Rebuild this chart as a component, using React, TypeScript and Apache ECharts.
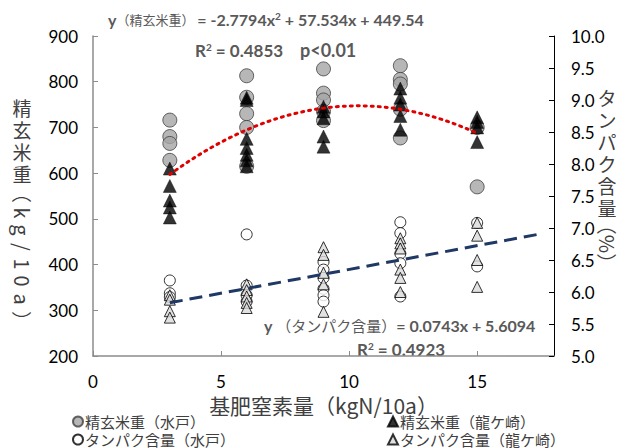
import React, { useEffect, useRef } from 'react';
import * as echarts from 'echarts';

// Nitrogen levels (kgN/10a)
const nitrogenLevels = [3, 6, 9, 12, 15];

// 精玄米重（水戸） kg/10a, per nitrogen level
const grainMito: number[][] = [
  [716, 680, 665, 628],
  [813, 766, 730, 700, 615],
  [828, 775, 760, 735, 715],
  [835, 805, 795, 740, 677],
  [700, 570],
];
// 精玄米重（龍ケ崎）
const grainRyu: number[][] = [
  [610, 572, 540, 525, 503],
  [765, 760, 675, 655, 640, 628, 615],
  [745, 735, 720, 680, 658],
  [785, 765, 750, 725, 695],
  [722, 712, 700, 668],
];
// タンパク含量（水戸） %
const proteinMito: number[][] = [
  [6.18, 5.98, 5.92],
  [6.9, 6.1, 5.95, 5.85],
  [6.47, 6.35, 6.22, 6.05, 5.95, 5.85],
  [7.09, 6.92, 6.6, 6.45, 5.93],
  [7.08, 6.4],
];
// タンパク含量（龍ケ崎）
const proteinRyu: number[][] = [
  [5.95, 5.88, 5.7, 5.6],
  [6.12, 6.03, 5.93, 5.83, 5.75],
  [6.7, 6.58, 6.3, 6.12, 5.69],
  [6.84, 6.76, 6.68, 6.35, 6.22, 6.0],
  [7.08, 6.88, 6.5, 6.08],
];

// Regression coefficients shown on chart
const quadCoef = [-2.7794, 57.534, 449.54];
const linCoef = [0.0743, 5.6094];
const quadRange = [3, 15];
const linRange = [3, 17.5];

const xTicks = [0, 5, 10, 15];
const leftTicks = [200, 300, 400, 500, 600, 700, 800, 900];
const rightTicks = [5.0, 5.5, 6.0, 6.5, 7.0, 7.5, 8.0, 8.5, 9.0, 9.5, 10.0];

const leftTitleUpright = ['精', '玄', '米', '重'];
const leftTitleRotated = ['（', 'k', 'g', '/', '1', '0', 'a', '）'];
const rightTitleUpright = ['タ', 'ン', 'パ', 'ク', '含', '量'];

const toPairs = (groups: number[][]) =>
  groups.flatMap((vals, i) => vals.map((v) => [nitrogenLevels[i], v]));

const NUM_FONT = "Lato, 'Noto Sans CJK JP', sans-serif";
const JP_FONT = "'Noto Sans CJK JP', sans-serif";
const EQ_COLOR = '#595959';
const TITLE_COLOR = '#404040';

export default function App() {
  const ref = useRef<HTMLDivElement>(null);
  useEffect(() => {
    if (!ref.current) return;
    const chart = echarts.init(ref.current, null, { renderer: 'svg' });

    const quadData: number[][] = [];
    for (let x = quadRange[0]; x <= quadRange[1] + 1e-9; x += 0.25) {
      quadData.push([x, quadCoef[0] * x * x + quadCoef[1] * x + quadCoef[2]]);
    }
    const linData = linRange.map((x) => [x, linCoef[0] * x + linCoef[1]]);

    const legendBase = {
      itemWidth: 10,
      itemHeight: 10,
      itemGap: 4,
      textStyle: { fontSize: 15, color: TITLE_COLOR, fontFamily: JP_FONT, padding: [0, 0, 0, -3] },
      selectedMode: false,
      padding: 0,
    };

    const titleGraphics: any[] = [];
    const charStyle = (ch: string, size: number) => ({
      text: ch,
      font: `${size}px ${JP_FONT}`,
      lineHeight: size,
      fill: TITLE_COLOR,
      align: 'center',
      verticalAlign: 'middle',
    });
    leftTitleUpright.forEach((ch, i) => {
      titleGraphics.push({ type: 'text', x: 22, y: 107 + i * 22, style: charStyle(ch, 19) });
    });
    const leftRotPos = [193, 213, 230, 247, 264, 281, 299, 321];
    leftTitleRotated.forEach((ch, i) => {
      titleGraphics.push({
        type: 'text',
        x: 22,
        y: leftRotPos[i],
        rotation: -Math.PI / 2,
        style: charStyle(ch, 20),
      });
    });
    rightTitleUpright.forEach((ch, i) => {
      titleGraphics.push({ type: 'text', x: 607, y: 97 + i * 22, style: charStyle(ch, 19) });
    });
    titleGraphics.push({
      type: 'text',
      x: 607,
      y: 244,
      rotation: -Math.PI / 2,
      style: charStyle('（%）', 20),
    });

    const b = (size: number) => ({ font: `bold ${size}px ${NUM_FONT}`, fill: EQ_COLOR });
    const sup = (size: number) => ({ font: `bold ${size}px ${NUM_FONT}`, fill: EQ_COLOR, padding: [0, 0, 7, 0] });

    chart.setOption({
      animation: false,
      backgroundColor: '#fff',
      textStyle: { fontFamily: NUM_FONT },
      grid: { left: 93, right: 76, top: 36, bottom: 92, containLabel: false },
      xAxis: {
        type: 'value',
        min: 0,
        max: 18,
        interval: 5,
        axisLine: { show: true, lineStyle: { color: '#8c8c8c', width: 1.5 } },
        axisTick: { show: true, inside: true, length: 5, lineStyle: { color: '#8c8c8c' } },
        axisLabel: {
          showMaxLabel: false,
          fontSize: 17,
          color: '#000',
          margin: 17,
          fontFamily: NUM_FONT,
          formatter: (v: number) => (xTicks.includes(v) ? String(v) : ''),
        },
        splitLine: { show: false },
        name: '基肥窒素量（kgN/10a）',
        nameLocation: 'middle',
        nameGap: 33,
        nameTextStyle: { fontSize: 21, color: TITLE_COLOR, fontFamily: JP_FONT },
      },
      yAxis: [
        {
          type: 'value',
          min: 200,
          max: 900,
          interval: 100,
          axisLine: { show: true, lineStyle: { color: '#8c8c8c', width: 1.5 } },
          axisTick: { show: true, inside: true, length: 5, lineStyle: { color: '#8c8c8c' } },
          axisLabel: {
            fontSize: 17,
            color: '#000',
            margin: 15,
            fontFamily: NUM_FONT,
            formatter: (v: number) => (leftTicks.includes(v) ? String(v) : ''),
          },
          splitLine: { show: false },
        },
        {
          type: 'value',
          min: 5,
          max: 10,
          interval: 0.5,
          position: 'right',
          axisLine: { show: true, lineStyle: { color: '#000', width: 1 } },
          axisTick: { show: true, inside: true, length: 5, lineStyle: { color: '#000' } },
          axisLabel: {
            fontSize: 17,
            color: '#000',
            margin: 17,
            fontFamily: NUM_FONT,
            formatter: (v: number) =>
              rightTicks.some((t) => Math.abs(t - v) < 1e-6) ? v.toFixed(1) : '',
          },
          splitLine: { show: false },
        },
      ],
      legend: [
        { ...legendBase, left: 72, top: 414, data: ['精玄米重（水戸）'] },
        { ...legendBase, left: 387, top: 414, data: ['精玄米重（龍ケ崎）'] },
        { ...legendBase, left: 72, top: 432, data: ['タンパク含量（水戸）'] },
        { ...legendBase, left: 387, top: 432, data: ['タンパク含量（龍ケ崎）'] },
      ],
      series: [
        {
          name: '精玄米重（水戸）',
          type: 'scatter',
          yAxisIndex: 0,
          symbol: 'circle',
          symbolSize: 14,
          itemStyle: { color: '#a5a5a5', borderColor: '#404040', borderWidth: 1 },
          data: toPairs(grainMito),
        },
        {
          name: '精玄米重（龍ケ崎）',
          type: 'scatter',
          yAxisIndex: 0,
          symbol: 'triangle',
          symbolSize: 13,
          itemStyle: { color: '#000', borderColor: '#000', borderWidth: 0.5 },
          data: toPairs(grainRyu),
        },
        {
          name: 'タンパク含量（水戸）',
          type: 'scatter',
          yAxisIndex: 1,
          symbol: 'circle',
          symbolSize: 11,
          itemStyle: { color: '#fff', borderColor: '#000', borderWidth: 1 },
          data: toPairs(proteinMito),
        },
        {
          name: 'タンパク含量（龍ケ崎）',
          type: 'scatter',
          yAxisIndex: 1,
          symbol: 'triangle',
          symbolSize: 11,
          itemStyle: { color: '#d9d9d9', borderColor: '#000', borderWidth: 1 },
          data: toPairs(proteinRyu),
        },
        {
          name: 'quad',
          type: 'line',
          yAxisIndex: 0,
          showSymbol: false,
          lineStyle: { color: '#e00000', width: 3, type: [2, 5], cap: 'round' },
          data: quadData,
          silent: true,
          z: 5,
        },
        {
          name: 'lin',
          type: 'line',
          yAxisIndex: 1,
          showSymbol: false,
          lineStyle: { color: '#1f3864', width: 3, type: [13, 7] },
          data: linData,
          silent: true,
          z: 5,
        },
      ],
      graphic: [
        ...titleGraphics,
        {
          type: 'text',
          x: 108,
          y: 19,
          style: {
            text: '{b|y}{s|（精玄米重） }{b|= -2.7794x}{sup|2}{b| + 57.534x + 449.54}',
            verticalAlign: 'middle',
            rich: {
              b: b(16),
              s: { font: `13px ${JP_FONT}`, fill: EQ_COLOR },
              sup: sup(10),
            },
          },
        },
        {
          type: 'text',
          x: 195,
          y: 50,
          style: {
            text: '{b|R}{sup|2}{b| = 0.4853}',
            verticalAlign: 'middle',
            rich: { b: b(17), sup: sup(10) },
          },
        },
        {
          type: 'text',
          x: 300,
          y: 50,
          style: {
            text: '{b|p<0.01}',
            verticalAlign: 'middle',
            rich: { b: b(18) },
          },
        },
        {
          type: 'text',
          x: 264,
          y: 325,
          style: {
            text: '{b|y }{s|（タンパク含量）}{b|= 0.0743x + 5.6094}',
            verticalAlign: 'middle',
            rich: {
              b: b(16),
              s: { font: `15px ${JP_FONT}`, fill: EQ_COLOR },
            },
          },
        },
        {
          type: 'text',
          x: 357,
          y: 349,
          style: {
            text: '{b|R}{sup|2}{b| = 0.4923}',
            verticalAlign: 'middle',
            rich: { b: b(17), sup: sup(10) },
          },
        },
      ],
    });
    return () => chart.dispose();
  }, []);
  return <div ref={ref} style={{ width: 630, height: 448, position: 'absolute', left: 0, top: 0 }} />;
}
